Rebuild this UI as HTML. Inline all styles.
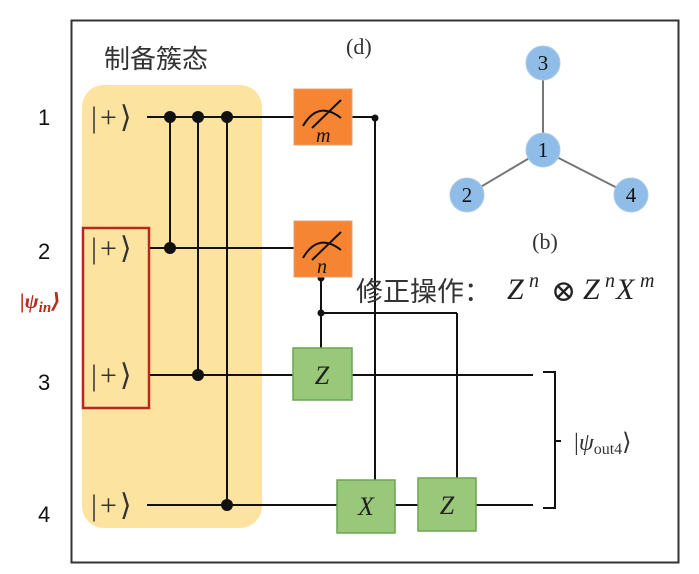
<!DOCTYPE html>
<html><head><meta charset="utf-8"><style>
html,body{margin:0;padding:0;background:#fff;}
svg{display:block;}
.s{font-family:"Liberation Serif","DejaVu Serif",serif;}
</style></head><body>
<svg width="699" height="574" viewBox="0 0 699 574" xmlns="http://www.w3.org/2000/svg">
<rect x="0" y="0" width="699" height="574" fill="#fff"/>
<rect x="71.5" y="20.5" width="607" height="542" fill="#fff" stroke="#333" stroke-width="2"/>
<rect x="82" y="85" width="180" height="443" rx="22" fill="#fde3a0"/>
<rect x="83" y="228" width="66" height="180" fill="none" stroke="#b8281c" stroke-width="2.5"/>
<text x="104" y="68" font-family="Liberation Sans,'Noto Sans CJK SC',sans-serif" font-size="26" fill="#333">制备簇态</text>
<text x="346" y="54" class="s" font-size="22" fill="#333">(d)</text>
<g font-family="Liberation Sans,sans-serif" font-size="22" fill="#111">
<text x="38" y="125">1</text><text x="38" y="259">2</text><text x="38" y="390">3</text><text x="38" y="522">4</text>
</g>
<text x="20" y="308" class="s" font-size="21" font-style="italic" font-weight="bold" fill="#b8281c">|ψ<tspan font-size="15" dy="4">in</tspan><tspan dy="-4">⟩</tspan></text>
<g class="s" font-size="30" fill="#333" letter-spacing="3">
<text x="91" y="127">|+⟩</text><text x="91" y="258">|+⟩</text><text x="91" y="385">|+⟩</text><text x="91" y="515">|+⟩</text>
</g>
<g stroke="#111" stroke-width="2" fill="none">
<line x1="147" y1="117" x2="294" y2="117"/>
<line x1="352" y1="117" x2="375" y2="117"/>
<line x1="150" y1="248" x2="294" y2="248"/>
<line x1="150" y1="375" x2="293" y2="375"/>
<line x1="352" y1="375" x2="533" y2="375"/>
<line x1="147" y1="505" x2="337" y2="505"/>
<line x1="395" y1="505" x2="418" y2="505"/>
<line x1="476" y1="505" x2="533" y2="505"/>
<line x1="170" y1="117" x2="170" y2="248"/>
<line x1="198" y1="117" x2="198" y2="375"/>
<line x1="227" y1="117" x2="227" y2="505"/>
<line x1="375" y1="117" x2="375" y2="480"/>
<line x1="321" y1="277" x2="321" y2="348"/>
<line x1="321" y1="313" x2="457" y2="313"/>
<line x1="457" y1="313" x2="457" y2="478"/>
<path d="M543 372 H555 V441 H561 M555 441 V508 H543"/>
</g>
<g fill="#111">
<circle cx="170" cy="117" r="6"/><circle cx="198" cy="117" r="6"/><circle cx="227" cy="117" r="6"/>
<circle cx="170" cy="248" r="6"/><circle cx="198" cy="375" r="6"/><circle cx="227" cy="505" r="6"/>
<circle cx="375" cy="118" r="3.5"/><circle cx="321" cy="278" r="3.5"/><circle cx="321" cy="313" r="3.5"/>
</g>
<g>
<rect x="294" y="89" width="58" height="56" fill="#f58532" stroke="#e8a070" stroke-width="1"/>
<path d="M303 126 Q318 100 341 118" stroke="#111" stroke-width="2" fill="none"/>
<line x1="312" y1="128" x2="341" y2="100" stroke="#111" stroke-width="2"/>
<text x="316" y="142" class="s" font-style="italic" font-size="20" fill="#111">m</text>
<rect x="294" y="221" width="58" height="56" fill="#f58532" stroke="#e8a070" stroke-width="1"/>
<path d="M303 258 Q318 232 341 250" stroke="#111" stroke-width="2" fill="none"/>
<line x1="312" y1="260" x2="341" y2="232" stroke="#111" stroke-width="2"/>
<text x="317" y="273" class="s" font-style="italic" font-size="20" fill="#111">n</text>
</g>
<g fill="#99c87a" stroke="#6aa550" stroke-width="1.5">
<rect x="293" y="348" width="59" height="52"/>
<rect x="337" y="480" width="58" height="53"/>
<rect x="418" y="478" width="58" height="53"/>
</g>
<g class="s" font-style="italic" font-size="26" fill="#222" text-anchor="middle">
<text x="322" y="384">Z</text><text x="366" y="515">X</text><text x="447" y="514">Z</text>
</g>
<text x="574" y="450" class="s" font-size="24" fill="#333">|<tspan font-style="italic">ψ</tspan><tspan font-size="16" dy="4">out4</tspan><tspan dy="-4">⟩</tspan></text>
<text x="356" y="301" font-family="Liberation Sans,'Noto Sans CJK SC',sans-serif" font-size="27" fill="#333">修正操作：</text>
<g class="s" font-size="30" fill="#222" font-style="italic">
<text x="507" y="299">Z</text><text x="529" y="287" font-size="20">n</text>
<text x="551" y="301" font-style="normal" font-size="30">⊗</text>
<text x="583" y="299">Z</text><text x="605" y="287" font-size="20">n</text>
<text x="616" y="299">X</text><text x="640" y="287" font-size="20">m</text>
</g>
<g stroke="#777" stroke-width="2">
<line x1="543" y1="63" x2="543" y2="150"/>
<line x1="543" y1="150" x2="467" y2="195"/>
<line x1="543" y1="150" x2="631" y2="195"/>
</g>
<g fill="#8fbde8" stroke="#a8cbe8" stroke-width="1">
<circle cx="543" cy="63" r="17"/><circle cx="543" cy="150" r="17"/>
<circle cx="467" cy="195" r="17"/><circle cx="631" cy="195" r="17"/>
</g>
<g class="s" font-size="21" fill="#111" text-anchor="middle">
<text x="543" y="70">3</text><text x="543" y="157">1</text><text x="467" y="202">2</text><text x="631" y="202">4</text>
</g>
<text x="545" y="249" class="s" font-size="22" fill="#333" text-anchor="middle">(b)</text>
</svg>
</body></html>
